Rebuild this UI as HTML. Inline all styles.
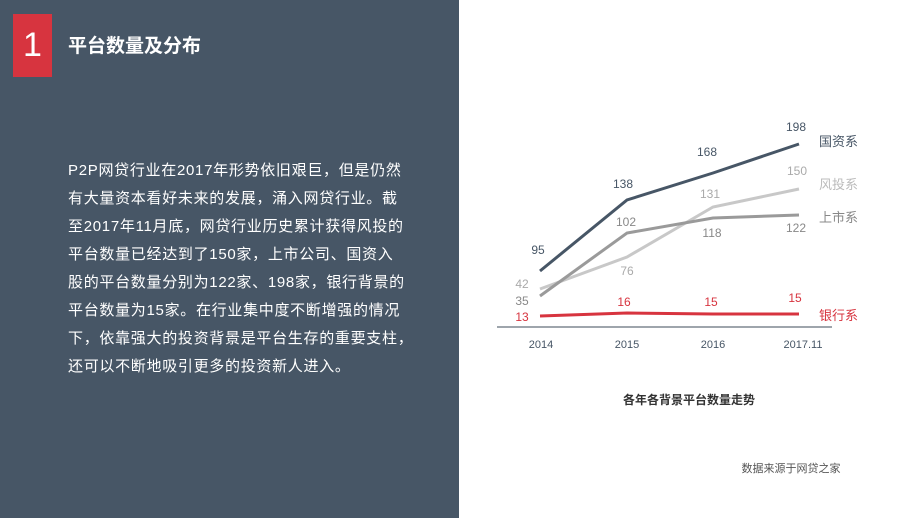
<!DOCTYPE html>
<html><head><meta charset="utf-8"><style>
body{margin:0;width:918px;height:518px;position:relative;background:#fff;font-family:"Liberation Sans","Noto Sans CJK SC",sans-serif;overflow:hidden}
#left{position:absolute;left:0;top:0;width:459px;height:518px;background:#475666}
#num{position:absolute;left:13px;top:14px;width:39px;height:63px;background:#d7343f;color:#fff;font-size:34px;text-align:center;line-height:63px;font-weight:300}
#title{position:absolute;left:68px;top:31px;color:#fff;font-size:19px;font-weight:bold}
#body{position:absolute;left:68px;top:157px;width:380px;color:#fff;font-size:15px;line-height:28px;letter-spacing:0.7px;white-space:nowrap}
svg{position:absolute;left:0;top:0}
</style></head><body>
<div id="left"><div id="num">1</div><div id="title">平台数量及分布</div>
<div id="body">P2P网贷行业在2017年形势依旧艰巨，但是仍然<br>有大量资本看好未来的发展，涌入网贷行业。截<br>至2017年11月底，网贷行业历史累计获得风投的<br>平台数量已经达到了150家，上市公司、国资入<br>股的平台数量分别为122家、198家，银行背景的<br>平台数量为15家。在行业集中度不断增强的情况<br>下，依靠强大的投资背景是平台生存的重要支柱，<br>还可以不断地吸引更多的投资新人进入。</div></div>
<svg width="918" height="518" font-family="Liberation Sans, Noto Sans CJK SC, sans-serif">
<line x1="497" y1="327" x2="832" y2="327" stroke="#7f8790" stroke-width="1.5"/>
<polyline points="540,271 627,200 713,173 799,144" fill="none" stroke="#475666" stroke-width="3"/>
<polyline points="540,289 627,257 713,207 799,189" fill="none" stroke="#c8c8c8" stroke-width="3"/>
<polyline points="540,296 627,233 713,218 799,215" fill="none" stroke="#9a9a9a" stroke-width="3"/>
<polyline points="540,316 627,313 713,314 799,314" fill="none" stroke="#d7343f" stroke-width="3"/>
<g font-size="12" text-anchor="middle">
<text x="538" y="254" fill="#475666">95</text><text x="623" y="188" fill="#475666">138</text><text x="707" y="156" fill="#475666">168</text><text x="796" y="131" fill="#475666">198</text>
<text x="522" y="288" fill="#aaa">42</text><text x="627" y="275" fill="#aaa">76</text><text x="710" y="198" fill="#aaa">131</text><text x="797" y="175" fill="#aaa">150</text>
<text x="522" y="305" fill="#888">35</text><text x="626" y="226" fill="#888">102</text><text x="712" y="237" fill="#888">118</text><text x="796" y="232" fill="#888">122</text>
<text x="522" y="321" fill="#d7343f">13</text><text x="624" y="306" fill="#d7343f">16</text><text x="711" y="306" fill="#d7343f">15</text><text x="795" y="302" fill="#d7343f">15</text>
<text x="541" y="348" fill="#475666" font-size="11">2014</text><text x="627" y="348" fill="#475666" font-size="11">2015</text><text x="713" y="348" fill="#475666" font-size="11">2016</text><text x="803" y="348" fill="#475666" font-size="11">2017.11</text>
</g>
<g font-size="13">
<text x="819" y="146" fill="#475666">国资系</text><text x="819" y="189" fill="#bbb">风投系</text><text x="819" y="222" fill="#888">上市系</text><text x="819" y="320" fill="#d7343f">银行系</text>
</g>
<text x="689" y="404" font-size="12" font-weight="bold" text-anchor="middle" fill="#333">各年各背景平台数量走势</text>
<text x="791" y="472" font-size="11" text-anchor="middle" fill="#555">数据来源于网贷之家</text>
</svg>
</body></html>
